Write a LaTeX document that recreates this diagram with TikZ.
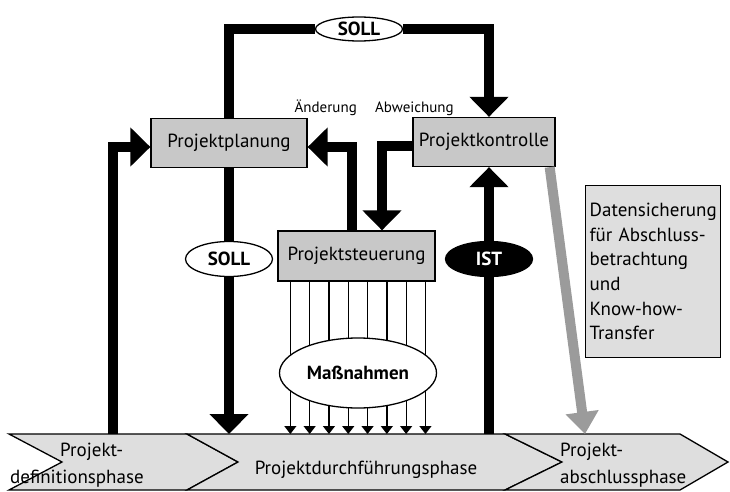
\documentclass[tikz,border=0pt]{standalone}
\usepackage{fontspec}
\setmainfont{PT Sans}
\usetikzlibrary{arrows.meta, shapes.geometric}

\definecolor{boxgray}{RGB}{200,200,200}
\definecolor{bandgray}{RGB}{222,222,222}
\definecolor{arrowgray}{RGB}{155,155,155}

\begin{document}
\begin{tikzpicture}[
  x=1pt, y=-1pt,
  box/.style      = {draw, line width=1.3pt, fill=boxgray, minimum height=49pt, inner sep=0pt,
                     font=\fontsize{19}{23}\selectfont},
  tag/.style      = {ellipse, draw, line width=1.3pt, fill=white, inner sep=0pt,
                     minimum width=87pt, minimum height=35pt, font=\fontsize{19}{23}\selectfont\bfseries},
  bigline/.style  = {line width=10pt},
  bigarrow/.style = {line width=10pt, -{Triangle[length=20pt, width=38pt]}},
  thinarrow/.style= {line width=1.3pt, -{Triangle[length=8pt, width=12pt]}},
  grayarrow/.style= {line width=10pt, arrowgray, -{Triangle[length=22pt, width=32pt]}},
  phase/.style    = {draw, line width=1.3pt, fill=bandgray},
  lbl/.style      = {font=\fontsize{19}{23}\selectfont, inner sep=0pt},
  sublbl/.style   = {font=\fontsize{15}{18}\selectfont, inner sep=0pt}
]
\useasboundingbox (0,0) rectangle (730,492);

% ---- PHASE BAND ----
\draw[phase] (9,434) -- (187,434) -- (238,462) -- (187,490) -- (9,490) -- (62,462) -- cycle;
\draw[phase] (187,434) -- (505,434) -- (562,462) -- (505,490) -- (187,490) -- (238,462) -- cycle;
\draw[phase] (505,434) -- (680,434) -- (728,462) -- (680,490) -- (505,490) -- (562,462) -- cycle;
\coordinate (bandtop) at (0,434);
\coordinate (defin) at (113,434);
\coordinate (absch) at (585,434);

\node[lbl, anchor=base west] (def1) at (60,456) {Projekt-};
\node[lbl, anchor=base west] (def2) at (10,483) {definitionsphase};
\node[lbl, anchor=base] (durch) at (366,474) {Projektdurchführungsphase};
\node[lbl, anchor=base west] (abs1) at (560,456) {Projekt-};
\node[lbl, anchor=base west] (abs2) at (560,483) {abschlussphase};

% ---- BOXES ----
\node[box, minimum width=156pt] (planung)   at (229,143) {Projektplanung};
\node[box, minimum width=142pt] (kontrolle) at (484,142) {Projektkontrolle};
\node[box, minimum width=157pt, minimum height=50pt] (steuerung) at (356.5,256) {Projektsteuerung};
\node[box, anchor=north west, minimum width=135pt, minimum height=172pt, fill=bandgray,
      text width=127pt, align=left, font=\fontsize{19}{24.6}\selectfont] (daten) at (585,185)
  {Datensicherung\\für Abschluss-\\betrachtung\\und\\Know-how-\\Transfer};

\node[sublbl, anchor=base east] (aend) at (357,113) {Änderung};
\node[sublbl, anchor=base west] (abw)  at (375,113) {Abweichung};

% ---- SOLL / IST ----
\node[tag, minimum height=24pt] (soll1) at (359,29) {SOLL};
\node[tag] (soll2) at (229,259) {SOLL};
\node[tag, fill=black, text=white] (ist) at (489,259) {IST};

\draw[bigline]  (planung.north) |- (soll1.west);
\draw[bigarrow] (soll1.east) -| ([xshift=5pt]kontrolle.north);
\draw[bigline]  (planung.south) -- (soll2.north);
\draw[bigarrow] (soll2.south) -- (soll2.south |- bandtop);
\draw[bigarrow] (defin) |- ([yshift=-4pt]planung.west);
\draw[bigarrow] ([xshift=-4.5pt]steuerung.north) |- ([yshift=-4pt]planung.east);
\draw[bigarrow] ([yshift=-4pt]kontrolle.west) -| ([xshift=25.5pt]steuerung.north);
\draw[bigline]  (ist.south) -- (ist.south |- bandtop);
\draw[bigarrow] (ist.north) -- ([xshift=5pt]kontrolle.south);
\draw[grayarrow] ([xshift=-6pt]kontrolle.south east) -- (absch);

% ---- MASSNAHMEN ----
\foreach \i in {0,...,7} {
  \path ([xshift=13pt+\i*19.3pt]steuerung.south west) coordinate (s\i);
  \draw[thinarrow] (s\i) -- (s\i |- bandtop);
}
\node[tag, minimum width=157pt, minimum height=70pt] (mass) at (358,373) {Maßnahmen};

\end{tikzpicture}
\end{document}
